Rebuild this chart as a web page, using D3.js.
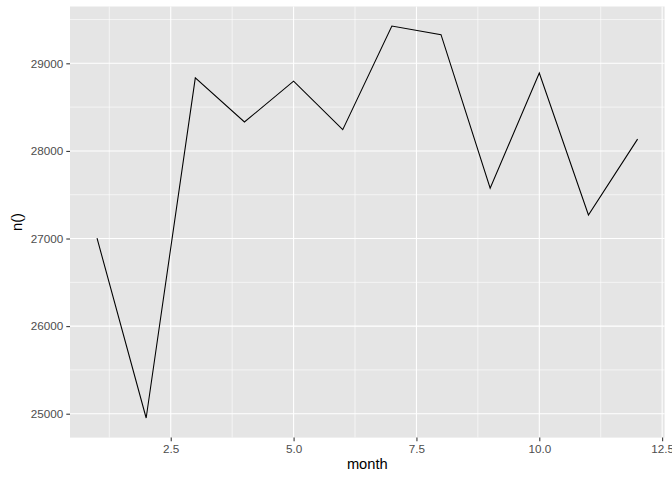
<!DOCTYPE html>
<html>
<head>
<meta charset="utf-8">
<script src="https://cdn.jsdelivr.net/npm/d3@7"></script>
<style>
  body { margin: 0; background: #fff; }
  text { font-family: "Liberation Sans", Arial, sans-serif; }
</style>
</head>
<body>
<svg id="chart" width="672" height="480"></svg>
<script>
const months = [1, 2, 3, 4, 5, 6, 7, 8, 9, 10, 11, 12];
const counts = [27004, 24951, 28834, 28330, 28796, 28243, 29425, 29327, 27574, 28889, 27268, 28135];
const xTicks = [2.5, 5.0, 7.5, 10.0, 12.5];
const xMinor = [1.25, 3.75, 6.25, 8.75, 11.25];
const yTicks = [25000, 26000, 27000, 28000, 29000];
const yMinor = [25500, 26500, 27500, 28500, 29500];

const data = months.map((m, i) => ({ month: m, n: counts[i] }));

const svg = d3.select("#chart");
const width = 672, height = 480;
const margin = { top: 6.5, right: 7.4, bottom: 42.4, left: 70 };

// ggplot-style 5% expansion
const xExt = d3.extent(months), yExt = d3.extent(counts);
const xPad = (xExt[1] - xExt[0]) * 0.05, yPad = (yExt[1] - yExt[0]) * 0.05;

const x = d3.scaleLinear()
  .domain([xExt[0] - xPad, xExt[1] + xPad])
  .range([margin.left, width - margin.right]);

const y = d3.scaleLinear()
  .domain([yExt[0] - yPad, yExt[1] + yPad])
  .range([height - margin.bottom, margin.top]);

// panel background
svg.append("rect")
  .attr("x", margin.left)
  .attr("y", margin.top)
  .attr("width", width - margin.left - margin.right)
  .attr("height", height - margin.top - margin.bottom)
  .attr("fill", "#E5E5E5");

// minor grid
svg.append("g").selectAll("line").data(xMinor).join("line")
  .attr("x1", d => x(d)).attr("x2", d => x(d))
  .attr("y1", margin.top).attr("y2", height - margin.bottom)
  .attr("stroke", "#fff").attr("stroke-width", 0.6);
svg.append("g").selectAll("line").data(yMinor).join("line")
  .attr("x1", margin.left).attr("x2", width - margin.right)
  .attr("y1", d => y(d)).attr("y2", d => y(d))
  .attr("stroke", "#fff").attr("stroke-width", 0.6);

// major grid
svg.append("g").selectAll("line").data(xTicks).join("line")
  .attr("x1", d => x(d)).attr("x2", d => x(d))
  .attr("y1", margin.top).attr("y2", height - margin.bottom)
  .attr("stroke", "#fff").attr("stroke-width", 1.07);
svg.append("g").selectAll("line").data(yTicks).join("line")
  .attr("x1", margin.left).attr("x2", width - margin.right)
  .attr("y1", d => y(d)).attr("y2", d => y(d))
  .attr("stroke", "#fff").attr("stroke-width", 1.07);

// line
svg.append("path")
  .datum(data)
  .attr("fill", "none")
  .attr("stroke", "#000")
  .attr("stroke-width", 1.07)
  .attr("d", d3.line().x(d => x(d.month)).y(d => y(d.n)));

// axes
const xAxis = svg.append("g")
  .attr("transform", `translate(0,${height - margin.bottom})`)
  .call(d3.axisBottom(x).tickValues(xTicks).tickFormat(d3.format(".1f")).tickSize(3.7).tickPadding(3));
const yAxis = svg.append("g")
  .attr("transform", `translate(${margin.left},0)`)
  .call(d3.axisLeft(y).tickValues(yTicks).tickFormat(d3.format("d")).tickSize(3.7).tickPadding(3));

[xAxis, yAxis].forEach(a => {
  a.select(".domain").remove();
  a.selectAll(".tick line").attr("stroke", "#333333").attr("stroke-width", 1.07);
  a.selectAll(".tick text")
    .attr("fill", "#4D4D4D")
    .style("font-size", "11.7px")
    .style("font-family", "Liberation Sans, Arial, sans-serif");
});

// axis titles
svg.append("text")
  .attr("x", (margin.left + width - margin.right) / 2)
  .attr("y", height - 11)
  .attr("text-anchor", "middle")
  .style("font-size", "14.7px")
  .attr("fill", "#000")
  .text("month");

svg.append("text")
  .attr("transform", `translate(22,${(margin.top + height - margin.bottom) / 2}) rotate(-90)`)
  .attr("text-anchor", "middle")
  .style("font-size", "14.7px")
  .attr("fill", "#000")
  .text("n()");
</script>
</body>
</html>
